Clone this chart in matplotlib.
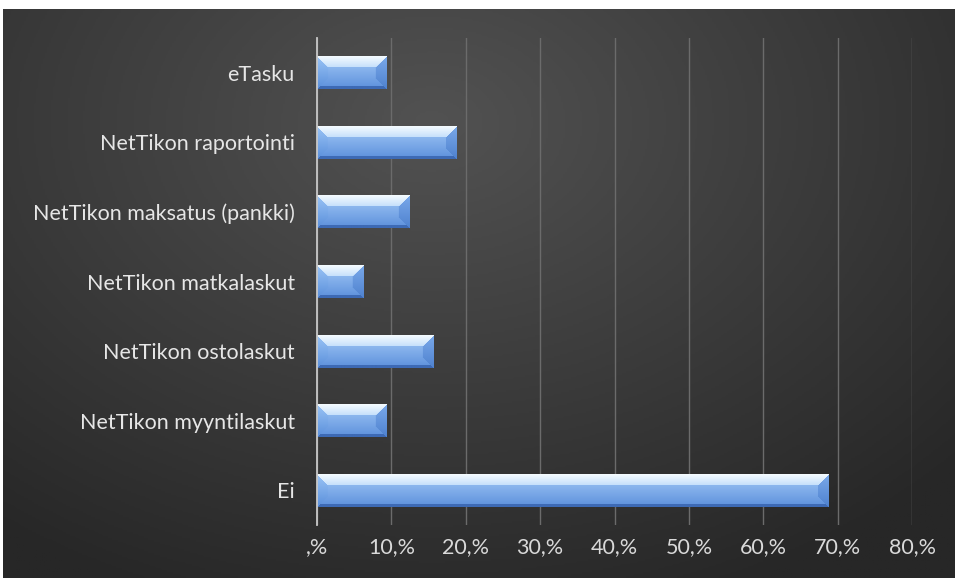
import numpy as np
import matplotlib.pyplot as plt
from matplotlib.colors import LinearSegmentedColormap, to_rgb

# data (share of respondents)
categories = ['Ei', 'NetTikon myyntilaskut', 'NetTikon ostolaskut',
              'NetTikon matkalaskut', 'NetTikon maksatus (pankki)',
              'NetTikon raportointi', 'eTasku']
values = [0.688, 0.093, 0.156, 0.062, 0.124, 0.188, 0.093]
tick_vals = [0, 0.1, 0.2, 0.3, 0.4, 0.5, 0.6, 0.7, 0.8]
tick_labels = [',%', '10,%', '20,%', '30,%', '40,%', '50,%', '60,%', '70,%', '80,%']

plt.rcParams['font.family'] = ['Lato', 'DejaVu Sans']

W_FIG, H_FIG = 955, 578
fig = plt.figure(figsize=(W_FIG / 100, H_FIG / 100), dpi=100)
fig.patch.set_facecolor('white')

# dark radial-gradient background (white strip on top and left as in the screenshot)
bg = fig.add_axes([3 / W_FIG, 0, 952 / W_FIG, 569 / H_FIG])
bg.set_axis_off()
yy, xx = np.mgrid[0:1:300j, 0:1:500j]
r = np.sqrt(((xx - 0.45) / 0.75) ** 2 + ((yy - 0.2) / 0.9) ** 2)
shade = np.clip(1 - r, 0, 1)
bg_cmap = LinearSegmentedColormap.from_list('bg', ['#272727', '#525252'])
bg.imshow(shade, cmap=bg_cmap, aspect='auto', extent=[0, 1, 1, 0], vmin=0, vmax=1)
bg.set_xlim(0, 1)
bg.set_ylim(1, 0)

ax_px = [317, 53, 595, 487]
ax = fig.add_axes([ax_px[0] / W_FIG, ax_px[1] / H_FIG, ax_px[2] / W_FIG, ax_px[3] / H_FIG])
ax.patch.set_alpha(0)

xmax = 0.8
n = len(categories)
y = np.arange(n)
bar_h = 0.474
bars = ax.barh(y, values, height=bar_h, color='#7aa8e8', zorder=3, linewidth=0)


def lerp(c1, c2, t):
    c1, c2 = np.array(to_rgb(c1)), np.array(to_rgb(c2))
    t = np.asarray(t)[..., None]
    return c1 * (1 - t) + c2 * t


def bevel_image(wpx, hpx, b=11, bb=3):
    """Pixel image of a bevelled glossy bar, row 0 = top."""
    Y, X = np.mgrid[0:hpx, 0:wpx] + 0.5
    ty = Y / hpx
    img = lerp('#a4caf7', '#5c90dc', ty)  # inner face
    dt, db, dl, dr = Y, hpx - Y, X, wpx - X
    top = (dt < b) & (dt <= dl) & (dt <= dr)
    left = (dl < b) & (dl < dt) & (dl <= db)
    right = (dr < b) & (dr < dt) & (dr <= db)
    bot = (db < bb) & ~left & ~right
    img[top] = lerp('#f6fcff', '#c6e0fb', (dt / b))[top]
    img[left] = lerp('#9cc5f6', '#5a8fdb', ty)[left]
    img[right] = lerp('#7aa9ea', '#4f82cf', ty)[right]
    img[bot] = np.array(to_rgb('#3d6ab5'))
    return img


px_per_x = ax_px[2] / xmax
px_per_y = ax_px[3] / n
for b in bars:
    x0, y0 = b.get_x(), b.get_y()
    w, h = b.get_width(), b.get_height()
    wpx = max(int(round(w * px_per_x)), 2)
    hpx = int(round(h * px_per_y))
    img = bevel_image(wpx, hpx)
    ax.imshow(img, aspect='auto', origin='upper', interpolation='bilinear',
              extent=[x0, x0 + w, y0, y0 + h], zorder=4)

ax.set_xlim(0, xmax)
ax.set_ylim(-0.5, n - 0.5)
ax.set_xticks(tick_vals)
ax.set_xticklabels(tick_labels)
ax.set_yticks(y)
ax.set_yticklabels(categories)
ax.tick_params(axis='x', colors='#d9d9d9', labelsize=15.5, length=0, pad=9)
ax.tick_params(axis='y', colors='#e6e6e6', labelsize=15.5, length=0, pad=16)

ax.grid(axis='x', color='#6b6b6b', linewidth=1, zorder=1)
for s in ['top', 'right', 'bottom']:
    ax.spines[s].set_visible(False)
ax.spines['left'].set_color('#c8c8c8')
ax.spines['left'].set_linewidth(1.3)
ax.spines['left'].set_zorder(5)

fig.savefig('out.png', dpi=100, facecolor=fig.get_facecolor())
